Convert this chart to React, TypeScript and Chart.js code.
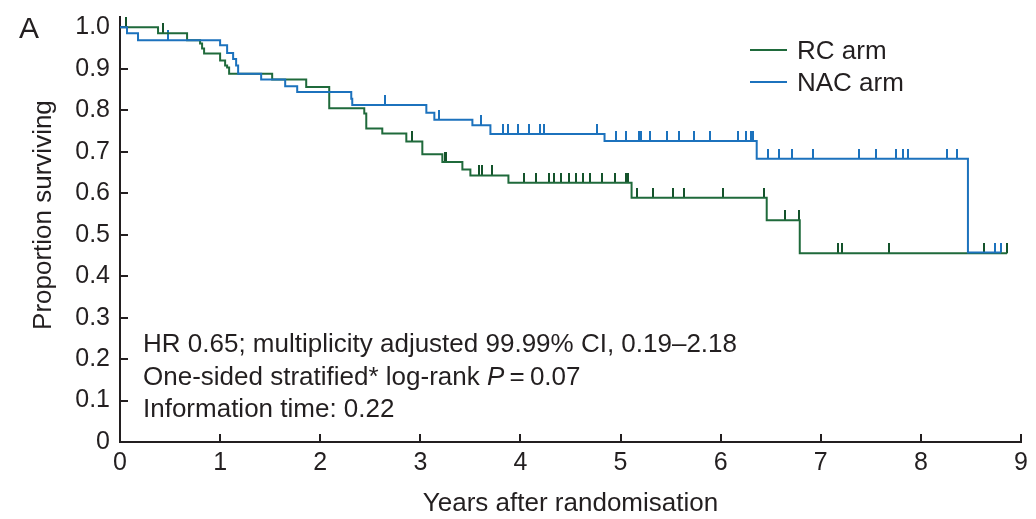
import React, { useEffect, useRef } from "react";
import { Chart, registerables } from "chart.js";

Chart.register(...registerables);

// ---- Data ----
const xTickLabels = ["0", "1", "2", "3", "4", "5", "6", "7", "8", "9"];
const yTickLabels = ["0", "0.1", "0.2", "0.3", "0.4", "0.5", "0.6", "0.7", "0.8", "0.9", "1.0"];

// RC arm (green) Kaplan–Meier steps: time of drop, survival after drop
const rcTimes = [0, 0.38, 0.67, 0.80, 0.82, 0.84, 1.00, 1.05, 1.07, 1.09, 1.52, 1.86, 2.09, 2.44, 2.46, 2.62, 2.86, 3.02, 3.22, 3.42, 3.50, 3.88, 5.11, 6.46, 6.79];
const rcSurv = [1.0, 0.986, 0.969, 0.961, 0.949, 0.937, 0.920, 0.908, 0.903, 0.888, 0.874, 0.856, 0.805, 0.792, 0.756, 0.744, 0.725, 0.694, 0.675, 0.657, 0.643, 0.625, 0.589, 0.535, 0.455];
const rcEnd = 8.86;
const rcCensored = [0.06, 0.43, 2.92, 3.25, 3.26, 3.59, 3.62, 3.72, 4.04, 4.16, 4.29, 4.34, 4.41, 4.49, 4.55, 4.62, 4.69, 4.81, 4.94, 5.05, 5.07, 5.16, 5.32, 5.52, 5.63, 6.02, 6.43, 6.64, 6.78, 7.17, 7.21, 7.68, 8.63, 8.86];

// NAC arm (blue)
const nacTimes = [0, 0.07, 0.18, 1.00, 1.07, 1.13, 1.16, 1.18, 1.41, 1.65, 1.77, 2.31, 2.32, 3.06, 3.14, 3.52, 3.70, 4.84, 6.36, 8.47];
const nacSurv = [1.0, 0.986, 0.969, 0.957, 0.938, 0.924, 0.908, 0.888, 0.874, 0.858, 0.844, 0.828, 0.813, 0.794, 0.777, 0.764, 0.743, 0.726, 0.683, 0.457];
const nacEnd = 8.80;
const nacCensored = [0.48, 2.65, 3.19, 3.61, 3.83, 3.88, 3.98, 4.09, 4.20, 4.24, 4.76, 4.95, 5.05, 5.18, 5.20, 5.29, 5.46, 5.58, 5.73, 5.89, 6.17, 6.25, 6.30, 6.32, 6.47, 6.58, 6.71, 6.92, 7.38, 7.55, 7.75, 7.82, 7.87, 8.26, 8.36, 8.74, 8.80];

const seriesLabels = ["RC arm", "NAC arm"];
const annotationLines = [
  "HR 0.65; multiplicity adjusted 99.99% CI, 0.19\u20132.18",
  "One-sided stratified* log-rank ",
  "Information time: 0.22",
];

// ---- Styles ----
const GREEN = "#1f6a3b";
const GREEN_TICK = "#14532b";
const BLUE = "#1c72bd";
const INK = "#231f20";
const FONT = "'Liberation Sans', Arial, Helvetica, sans-serif";

function stepPoints(times: number[], surv: number[], end: number) {
  const pts = times.map((t, i) => ({ x: t, y: surv[i] }));
  pts.push({ x: end, y: surv[surv.length - 1] });
  return pts;
}

function survAt(times: number[], surv: number[], t: number) {
  let v = surv[0];
  for (let i = 0; i < times.length; i++) {
    if (times[i] <= t) v = surv[i];
  }
  return v;
}

function makeTick(color: string) {
  const c = document.createElement("canvas");
  c.width = 2;
  c.height = 20;
  const g = c.getContext("2d")!;
  g.fillStyle = color;
  g.fillRect(0, 0, 2, 10);
  return c;
}

export default function App() {
  const ref = useRef<HTMLCanvasElement | null>(null);

  useEffect(() => {
    if (!ref.current) return;
    const greenTick = makeTick(GREEN_TICK);
    const blueTick = makeTick(BLUE);

    const chart = new Chart(ref.current, {
      type: "line",
      data: {
        datasets: [
          {
            label: seriesLabels[1],
            data: stepPoints(nacTimes, nacSurv, nacEnd),
            borderColor: BLUE,
            borderWidth: 2,
            stepped: "before",
            pointRadius: 0,
            fill: false,
          },
          {
            label: seriesLabels[0],
            data: stepPoints(rcTimes, rcSurv, rcEnd),
            borderColor: GREEN,
            borderWidth: 2,
            stepped: "before",
            pointRadius: 0,
            fill: false,
          },
          {
            label: "NAC censored",
            data: nacCensored.map((t) => ({ x: t, y: survAt(nacTimes, nacSurv, t) })),
            showLine: false,
            pointStyle: blueTick as any,
            pointRadius: 5,
            clip: false as any,
          },
          {
            label: "RC censored",
            data: rcCensored.map((t) => ({ x: t, y: survAt(rcTimes, rcSurv, t) })),
            showLine: false,
            pointStyle: greenTick as any,
            pointRadius: 5,
            clip: false as any,
          },
        ],
      },
      options: {
        responsive: false,
        animation: false,
        events: [],
        layout: { padding: { top: 17, right: 15, left: 0, bottom: 0 } },
        plugins: { legend: { display: false }, tooltip: { enabled: false } },
        scales: {
          x: {
            type: "linear",
            min: 0,
            max: 9,
            afterFit: (s: any) => {
              s.height = 77;
              s.paddingLeft = 0;
              s.paddingRight = 0;
            },
            afterBuildTicks: (s: any) => {
              s.ticks = xTickLabels.map((_, i) => ({ value: i }));
            },
            ticks: {
              stepSize: 1,
              padding: 14,
              color: INK,
              font: { family: FONT, size: 25 },
              callback: (v: any) => xTickLabels[Math.round(v)] ?? "",
            },
            grid: {
              drawOnChartArea: false,
              drawTicks: true,
              tickLength: -8,
              color: INK,
              lineWidth: 2,
            },
            border: { display: true, color: INK, width: 2 },
            title: {
              display: true,
              text: "Years after randomisation",
              color: INK,
              font: { family: FONT, size: 26 },
              padding: { top: 0, bottom: 0 },
            },
          },
          y: {
            type: "linear",
            min: 0,
            max: 1.025,
            afterFit: (s: any) => {
              s.width = 120;
              s.paddingTop = 0;
              s.paddingBottom = 0;
            },
            afterBuildTicks: (s: any) => {
              s.ticks = yTickLabels.map((_, i) => ({ value: i / 10 }));
            },
            ticks: {
              stepSize: 0.1,
              padding: 18,
              color: INK,
              font: { family: FONT, size: 25 },
              callback: (v: any) => yTickLabels[Math.round(Number(v) * 10)] ?? "",
            },
            grid: {
              drawOnChartArea: false,
              drawTicks: true,
              tickLength: -8,
              color: INK,
              lineWidth: 2,
            },
            border: { display: true, color: INK, width: 2 },
            title: {
              display: true,
              text: "    Proportion surviving",
              color: INK,
              font: { family: FONT, size: 26 },
              padding: { top: 28, bottom: 0 },
            },
          },
        },
      },
    });
    return () => chart.destroy();
  }, []);

  const textStyle: React.CSSProperties = {
    position: "absolute",
    fontFamily: FONT,
    color: INK,
    fontSize: "26px",
    whiteSpace: "nowrap",
  };

  return (
    <div style={{ position: "fixed", left: 0, top: 0, width: 1036, height: 519, background: "#fff" }}>
      <canvas ref={ref} width={1036} height={519} style={{ display: "block" }} />
      <div style={{ ...textStyle, left: 19, top: 10, fontSize: "30px", lineHeight: "36px" }}>A</div>
      {/* Legend */}
      <div style={{ position: "absolute", left: 750, top: 49, width: 37, height: 2, background: GREEN }} />
      <div style={{ ...textStyle, left: 797, top: 34, lineHeight: "32px" }}>{seriesLabels[0]}</div>
      <div style={{ position: "absolute", left: 750, top: 81, width: 37, height: 2, background: BLUE }} />
      <div style={{ ...textStyle, left: 797, top: 66, lineHeight: "32px" }}>{seriesLabels[1]}</div>
      {/* Annotation */}
      <div style={{ ...textStyle, left: 143, top: 327, lineHeight: "32.5px" }}>
        <div>{annotationLines[0]}</div>
        <div>
          {annotationLines[1]}
          <i>P</i>
          {"\u2009=\u20090.07"}
        </div>
        <div>{annotationLines[2]}</div>
      </div>
    </div>
  );
}
